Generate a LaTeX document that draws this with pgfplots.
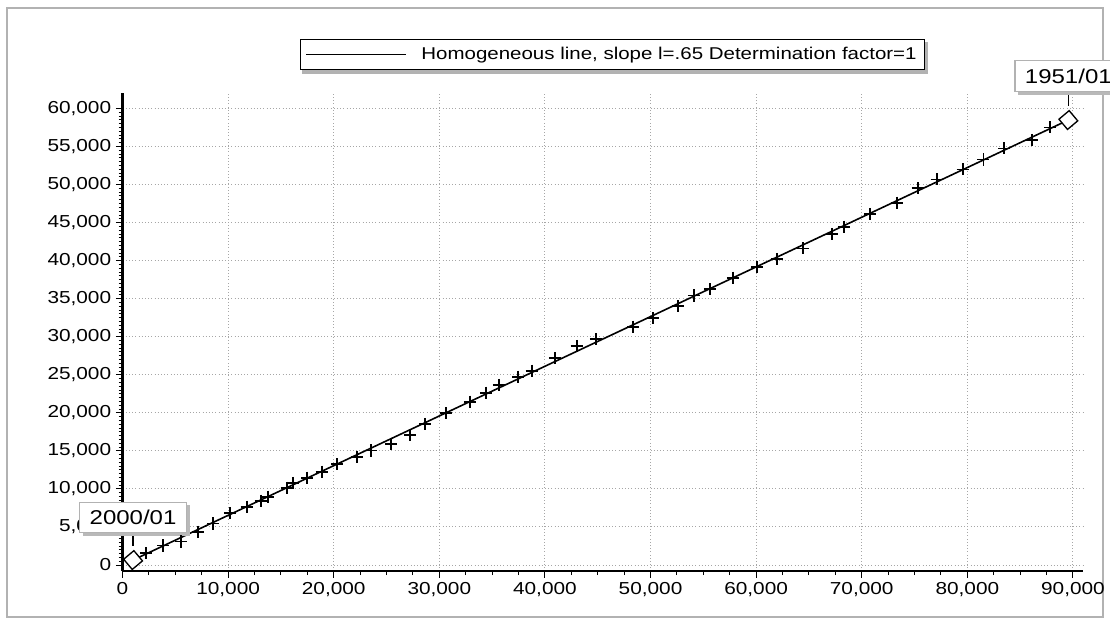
\documentclass[border=0pt]{standalone}
\usepackage{fontspec}
\setmainfont{Liberation Sans}[FakeStretch=1.2]
\usepackage{pgfplots}
\pgfplotsset{compat=1.18}
\usetikzlibrary{shadows,backgrounds}

\pgfplotstableread{
x y
2225 1537
3864 2562
5540 3088
7178 4376
8598 5453
10180 6794
11761 7648
13097 8449
13807 8975
15549 10145
16174 10775
17500 11472
18864 12260
20341 13232
22235 14231
23551 15046
25445 15940
27225 17083
28646 18528
30634 19934
32907 21459
34451 22641
35653 23653
37481 24744
38750 25532
40956 27162
43011 28778
44839 29658
48371 31314
50208 32418
52604 33995
54119 35414
55634 36229
57812 37740
60114 39198
61951 40210
64413 41616
67159 43495
68324 44455
70786 46124
73314 47608
75303 49501
77102 50683
79564 51997
81515 53285
83494 54757
86098 55848
87831 57517
}\pts

\pgfplotstableread{
x y
1000 650
89564 58476
}\ends

\begin{document}
\begin{tikzpicture}
\useasboundingbox (0,0) rectangle (832.5pt,465.75pt);
\draw[gray!60, line width=1.5pt] (5.25pt,3pt) rectangle (827.25pt,459.75pt);
\begin{axis}[
  at={(91.875pt,37.425pt)}, anchor=south west,
  scale only axis, width=720.75pt, height=358.4pt,
  xmin=0, xmax=91000, ymin=-800, ymax=62000,
  axis x line=bottom, axis y line=left,
  axis line style={-, line width=2pt, black},
  xtick={0,10000,...,90000}, ytick={0,5000,...,60000},
  minor x tick num=3, minor y tick num=9,
  tick align=outside,
  major tick length=5pt, minor tick length=3pt,
  tick style={black, line width=0.7pt},
  grid=major,
  major grid style={gray!70, dotted, line width=0.7pt},
  scaled ticks=false,
  /pgf/number format/.cd, 1000 sep={,}, assume math mode=true,
  /pgfplots/.cd,
  tick label style={font=\fontsize{13}{15}\selectfont},
  clip=false,
  legend style={name=leg, at={(0.5099,1.081)}, anchor=center, draw=black, line width=0.9pt,
    fill=white, font=\fontsize{12.8}{15}\selectfont,
    inner xsep=4pt, inner ysep=4pt,
    /tikz/every odd column/.append style={column sep=9pt}},
  legend image code/.code={\draw[black, line width=0.8pt] (0pt,0pt) -- (75pt,0pt);},
]
\addplot[black, line width=1.2pt] table {\ends};
\addlegendentry{Homogeneous line, slope l=.65 Determination factor=1}
\addplot[only marks, mark=+, mark size=4.6pt, mark options={black, line width=1.25pt}, forget plot] table {\pts};
\addplot[only marks, mark=square*, mark size=5pt, mark options={black, fill=white, line width=1pt, rotate=40}, forget plot] table {\ends};

\draw[black, line width=0.9pt] (axis cs:1000,650) ++(0,6pt) -- ++(0,16pt);
\node[draw=gray!60, fill=white, line width=0.8pt, minimum width=80pt, minimum height=23pt,
  inner sep=0pt, font=\fontsize{15}{17}\selectfont,
  drop shadow={shadow xshift=2.5pt, shadow yshift=-2.5pt, fill=gray!55, opacity=1}]
  at ([yshift=32pt]axis cs:1000,650) {2000/01};

\draw[black, line width=0.9pt] (axis cs:89564,58476) ++(0,6pt) -- ++(0,16pt);
\node[draw=gray!60, fill=white, line width=0.8pt, minimum width=80pt, minimum height=23pt,
  inner sep=0pt, font=\fontsize{15}{17}\selectfont,
  drop shadow={shadow xshift=2.5pt, shadow yshift=-2.5pt, fill=gray!55, opacity=1}]
  at ([yshift=33pt]axis cs:89564,58476) {1951/01};
\end{axis}
\begin{pgfonlayer}{background}
\fill[gray!60] ([shift={(2pt,-2.5pt)}]leg.south west) rectangle ([shift={(2pt,-2.5pt)}]leg.north east);
\end{pgfonlayer}
\end{tikzpicture}
\end{document}
